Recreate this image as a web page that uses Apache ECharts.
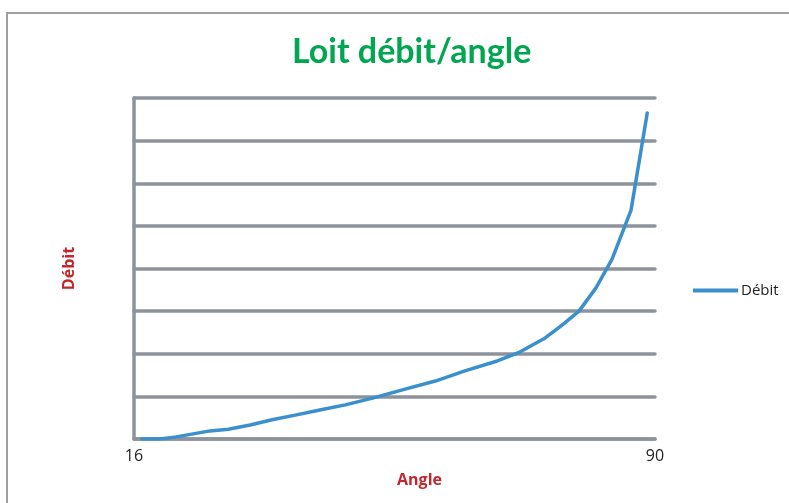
<!DOCTYPE html>
<html>
<head>
<meta charset="utf-8">
<script src="https://cdn.jsdelivr.net/npm/echarts@6/dist/echarts.min.js"></script>
<style>
html,body{margin:0;padding:0;background:#fff;}
#chart{width:789px;height:503px;}
</style>
</head>
<body>
<div id="chart"></div>
<script>
// Data (angle in degrees, débit in relative units: 10 per gridline)
var angles = [17.1, 19.7, 22.0, 24.4, 26.8, 29.4, 32.5, 35.6, 38.9, 42.4, 46.0, 49.9, 54.5, 58.8, 63.0, 67.6, 70.8, 74.4, 76.8, 79.2, 81.6, 83.9, 86.6, 88.9];
var debits = [0, 0, 0.5, 1.2, 1.9, 2.3, 3.3, 4.5, 5.6, 6.8, 8.0, 9.6, 11.7, 13.6, 16.0, 18.3, 20.4, 23.7, 26.7, 30.0, 35.4, 42.2, 53.7, 76.5];
var xMin = 16, xMax = 90;
var xTickLabels = ['16', '90'];
var yMin = 0, yMax = 80, yStep = 10;
var titleText = 'Loit débit/angle';
var xName = 'Angle';
var yName = 'Débit';
var seriesName = 'Débit';

var pts = angles.map(function (a, i) { return [a, debits[i]]; });
var gridColor = '#8e939a';
var lineColor = '#3a8fcd';

var chart = echarts.init(document.getElementById('chart'), null, {renderer: 'canvas'});
chart.setOption({
  animation: false,
  backgroundColor: '#fff',
  title: {
    text: titleText,
    left: 287,
    top: 30,
    textStyle: {fontFamily: 'Lato', fontWeight: 'bold', fontSize: 34, color: '#00a650'}
  },
  legend: {
    data: [{name: seriesName, icon: 'rect'}],
    left: 688,
    top: 278,
    itemWidth: 45,
    itemHeight: 4,
    itemGap: 0,
    itemStyle: {color: lineColor},
    textStyle: {fontFamily: 'Open Sans', fontSize: 15, color: '#222', padding: [0, 0, 0, -2]}
  },
  grid: {left: 134, right: 134, top: 98, bottom: 64, containLabel: false},
  xAxis: {
    type: 'value',
    min: xMin,
    max: xMax,
    name: xName,
    nameLocation: 'middle',
    nameGap: 33,
    nameTextStyle: {fontFamily: 'Open Sans', fontWeight: 'bold', fontSize: 16, color: '#c1272d', padding: [0, 0, 0, 50]},
    axisLine: {show: true, lineStyle: {color: gridColor, width: 3.5, cap: 'round'}},
    axisTick: {show: false},
    splitLine: {show: false},
    axisLabel: {
      showMinLabel: true,
      showMaxLabel: true,
      margin: 9,
      fontFamily: 'Open Sans',
      fontSize: 16,
      color: '#222',
      formatter: function (v) {
        if (v === xMin) return xTickLabels[0];
        if (v === xMax) return xTickLabels[1];
        return '';
      }
    }
  },
  yAxis: {
    type: 'value',
    min: yMin,
    max: yMax,
    interval: yStep,
    name: yName,
    nameLocation: 'middle',
    nameGap: 57,
    nameRotate: 90,
    nameTextStyle: {fontFamily: 'Open Sans', fontWeight: 'bold', fontSize: 16, color: '#c1272d'},
    axisLine: {show: true, lineStyle: {color: gridColor, width: 3.5, cap: 'round'}},
    axisTick: {show: false},
    axisLabel: {show: false},
    splitLine: {show: true, lineStyle: {color: gridColor, width: 3.5, cap: 'round'}}
  },
  series: [{
    name: seriesName,
    type: 'line',
    data: pts,
    symbol: 'none',
    smooth: false,
    lineStyle: {color: lineColor, width: 3.5, cap: 'round', join: 'round'},
    itemStyle: {color: lineColor}
  }],
  graphic: [{
    type: 'polyline',
    shape: {points: [[7, 503], [7, 13], [789, 13]]},
    style: {stroke: '#9ea0a3', lineWidth: 2, fill: null},
    silent: true
  }]
});
</script>
</body>
</html>
